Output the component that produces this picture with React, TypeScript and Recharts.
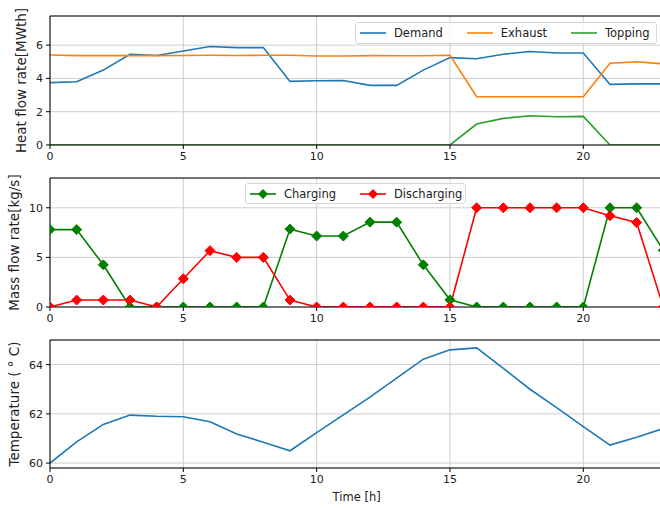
import React from "react";
import {
  LineChart,
  Line,
  XAxis,
  YAxis,
  CartesianGrid,
  Legend,
  Label,
  ReferenceLine,
} from "recharts";

const hours = [0, 1, 2, 3, 4, 5, 6, 7, 8, 9, 10, 11, 12, 13, 14, 15, 16, 17, 18, 19, 20, 21, 22, 23];
const demand = [3.75, 3.8, 4.5, 5.45, 5.38, 5.65, 5.92, 5.85, 5.85, 3.82, 3.86, 3.87, 3.58, 3.58, 4.5, 5.25, 5.18, 5.45, 5.62, 5.53, 5.53, 3.64, 3.67, 3.67];
const exhaust = [5.41, 5.37, 5.37, 5.37, 5.37, 5.38, 5.39, 5.38, 5.39, 5.39, 5.35, 5.35, 5.37, 5.36, 5.36, 5.39, 2.9, 2.9, 2.9, 2.9, 2.9, 4.91, 5.0, 4.87];
const topping = [0, 0, 0, 0, 0, 0, 0, 0, 0, 0, 0, 0, 0, 0, 0, 0, 1.26, 1.6, 1.76, 1.7, 1.72, 0, 0, 0];
const charging = [7.8, 7.8, 4.25, 0, 0, 0, 0, 0, 0, 7.85, 7.15, 7.15, 8.55, 8.55, 4.25, 0.72, 0, 0, 0, 0, 0, 10, 10, 5.72];
const discharging = [0, 0.7, 0.7, 0.7, 0, 2.85, 5.68, 5.0, 5.0, 0.7, 0, 0, 0, 0, 0, 0, 10, 10, 10, 10, 10, 9.2, 8.52, 0];
const temperature = [60.0, 60.86, 61.57, 61.95, 61.9, 61.88, 61.68, 61.18, 60.85, 60.5, 61.24, 61.96, 62.68, 63.45, 64.22, 64.6, 64.68, 63.85, 63.0, 62.25, 61.48, 60.73, 61.05, 61.4];

const xTicks = [0, 5, 10, 15, 20];
const heatTicks = [0, 2, 4, 6];
const massTicks = [0, 5, 10];
const tempTicks = [60, 62, 64];

const heatData = hours.map((h, i) => ({ h, demand: demand[i], exhaust: exhaust[i], topping: topping[i] }));
const massData = hours.map((h, i) => ({ h, charging: charging[i], discharging: discharging[i] }));
const tempData = hours.map((h, i) => ({ h, temperature: temperature[i] }));

const FONT = "DejaVu Sans, sans-serif";
const W = 680;
const MARGIN = { top: 10, right: 16.7, left: 0, bottom: 0 };
const tick = { fill: "#222", fontSize: 11, fontFamily: FONT };
const axisLine = { stroke: "#000", strokeWidth: 1 };

const yLabel = (text: string, cx: number) => (props: any) => {
  const vb = props.viewBox || {};
  const cy = vb.y + vb.height / 2;
  return (
    <text
      x={cx}
      y={cy}
      transform={`rotate(-90 ${cx} ${cy})`}
      textAnchor="middle"
      dominantBaseline="central"
      fontSize={13.5}
      fontFamily={FONT}
      fill="#222"
    >
      {text}
    </text>
  );
};

const diamond = (color: string) => (props: any) => {
  const { cx, cy, index } = props;
  if (cx == null || cy == null) return <g key={index} />;
  const r = 5;
  return (
    <polygon
      key={index}
      points={`${cx},${cy - r} ${cx + r},${cy} ${cx},${cy + r} ${cx - r},${cy}`}
      fill={color}
      stroke={color}
    />
  );
};

type Item = { name: string; color: string; marker?: boolean };

const legendBox = (items: Item[]) => () => (
  <div
    style={{
      display: "flex",
      alignItems: "center",
      height: "100%",
      boxSizing: "border-box",
      border: "1px solid #d6d6d6",
      borderRadius: 3,
      background: "rgba(255,255,255,0.85)",
      padding: "0 4px",
      fontFamily: FONT,
      fontSize: 11.5,
      color: "#222",
    }}
  >
    {items.map((it, i) => (
      <div key={it.name} style={{ display: "flex", alignItems: "center", marginLeft: i === 0 ? 0 : 24 }}>
        <svg width={26} height={12} style={{ marginRight: 8 }}>
          <line x1={0} y1={6} x2={26} y2={6} stroke={it.color} strokeWidth={1.6} />
          {it.marker && <polygon points="13,1 18,6 13,11 8,6" fill={it.color} />}
        </svg>
        <span>{it.name}</span>
      </div>
    ))}
  </div>
);

const heatItems: Item[] = [
  { name: "Demand", color: "#1f77b4" },
  { name: "Exhaust", color: "#ff7f0e" },
  { name: "Topping", color: "#2ca02c" },
];
const massItems: Item[] = [
  { name: "Charging", color: "#008000", marker: true },
  { name: "Discharging", color: "#ff0000", marker: true },
];

export default function App() {
  return (
    <div
      style={{
        position: "absolute",
        left: 0,
        top: 0,
        width: 660,
        height: 508,
        overflow: "hidden",
        background: "#fff",
      }}
    >
      <div style={{ position: "absolute", left: 0, top: 6 }}>
        <LineChart width={W} height={169} data={heatData} margin={MARGIN}>
          <CartesianGrid stroke="#cfcfcf" />
          <XAxis
            dataKey="h"
            type="number"
            domain={[0, 23]}
            ticks={xTicks}
            allowDataOverflow
            height={30}
            tick={tick}
            tickSize={4}
            tickMargin={3}
            axisLine={axisLine}
            tickLine={{ stroke: "#000" }}
          />
          <YAxis
            type="number"
            domain={[0, 7.75]}
            ticks={heatTicks}
            allowDataOverflow
            width={50}
            tick={tick}
            tickSize={4}
            tickMargin={3}
            axisLine={axisLine}
            tickLine={{ stroke: "#000" }}
          >
            <Label content={yLabel("Heat flow rate[MWth]", 21)} />
          </YAxis>
          <ReferenceLine y={7.75} stroke="#000" strokeWidth={1} />
          <Line type="linear" dataKey="demand" name="Demand" stroke="#1f77b4" strokeWidth={1.6} dot={false} isAnimationActive={false} />
          <Line type="linear" dataKey="exhaust" name="Exhaust" stroke="#ff7f0e" strokeWidth={1.6} dot={false} isAnimationActive={false} />
          <Line type="linear" dataKey="topping" name="Topping" stroke="#2ca02c" strokeWidth={1.6} dot={false} isAnimationActive={false} />
          <Legend
            layout="horizontal"
            align="center"
            verticalAlign="middle"
            wrapperStyle={{ left: 355, top: 16, width: 302, height: 22 }}
            content={legendBox(heatItems)}
          />
        </LineChart>
      </div>

      <div style={{ position: "absolute", left: 0, top: 168 }}>
        <LineChart width={W} height={169} data={massData} margin={MARGIN}>
          <CartesianGrid stroke="#cfcfcf" />
          <XAxis
            dataKey="h"
            type="number"
            domain={[0, 23]}
            ticks={xTicks}
            allowDataOverflow
            height={30}
            tick={tick}
            tickSize={4}
            tickMargin={3}
            axisLine={axisLine}
            tickLine={{ stroke: "#000" }}
          />
          <YAxis
            type="number"
            domain={[0, 13]}
            ticks={massTicks}
            allowDataOverflow
            width={50}
            tick={tick}
            tickSize={4}
            tickMargin={3}
            axisLine={axisLine}
            tickLine={{ stroke: "#000" }}
          >
            <Label content={yLabel("Mass flow rate[kg/s]", 14)} />
          </YAxis>
          <ReferenceLine y={13} stroke="#000" strokeWidth={1} />
          <Line type="linear" dataKey="charging" name="Charging" stroke="#008000" strokeWidth={1.6} dot={diamond("#008000")} isAnimationActive={false} />
          <Line type="linear" dataKey="discharging" name="Discharging" stroke="#ff0000" strokeWidth={1.6} dot={diamond("#ff0000")} isAnimationActive={false} />
          <Legend
            layout="horizontal"
            align="center"
            verticalAlign="middle"
            wrapperStyle={{ left: 245, top: 15, width: 221, height: 21 }}
            content={legendBox(massItems)}
          />
        </LineChart>
      </div>

      <div style={{ position: "absolute", left: 0, top: 330 }}>
        <LineChart width={W} height={178} data={tempData} margin={MARGIN}>
          <CartesianGrid stroke="#cfcfcf" />
          <XAxis
            dataKey="h"
            type="number"
            domain={[0, 23]}
            ticks={xTicks}
            allowDataOverflow
            height={40}
            tick={tick}
            tickSize={4}
            tickMargin={3}
            axisLine={axisLine}
            tickLine={{ stroke: "#000" }}
          >
            <Label value="Time [h]" position="insideBottom" offset={7} fontSize={11.5} fontFamily={FONT} fill="#222" />
          </XAxis>
          <YAxis
            type="number"
            domain={[59.8, 65]}
            ticks={tempTicks}
            allowDataOverflow
            width={50}
            tick={tick}
            tickSize={4}
            tickMargin={3}
            axisLine={axisLine}
            tickLine={{ stroke: "#000" }}
          >
            <Label content={yLabel("Temperature ( \u00B0 C)", 14)} />
          </YAxis>
          <ReferenceLine y={65} stroke="#000" strokeWidth={1} />
          <Line type="linear" dataKey="temperature" stroke="#1f77b4" strokeWidth={1.6} dot={false} isAnimationActive={false} />
        </LineChart>
      </div>
    </div>
  );
}
